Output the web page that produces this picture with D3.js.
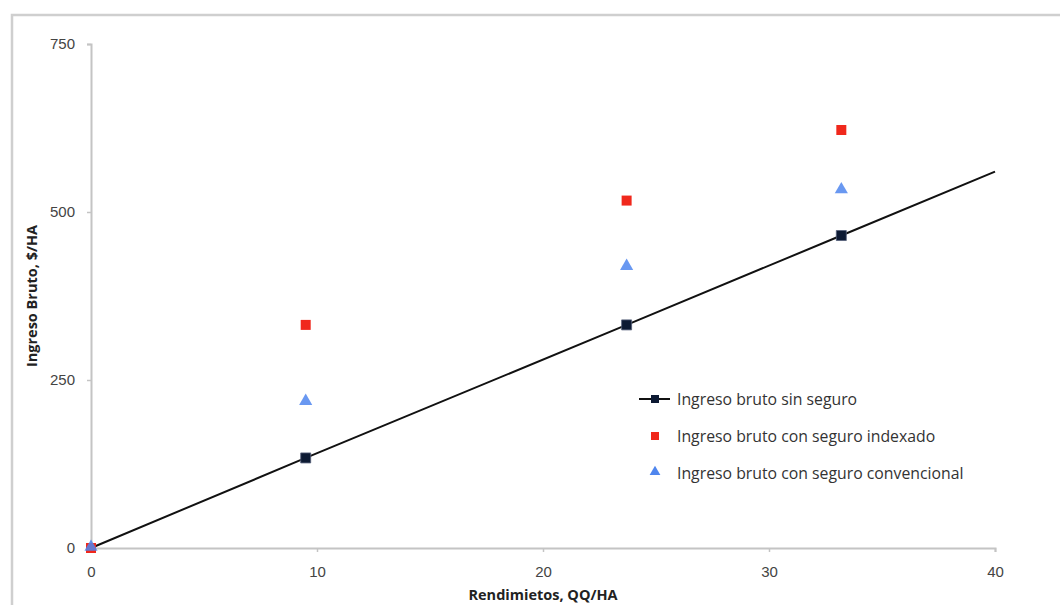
<!DOCTYPE html>
<html>
<head>
<meta charset="utf-8">
<script src="https://cdn.jsdelivr.net/npm/d3@7.9.0/dist/d3.min.js"></script>
<style>
  body { margin: 0; background: #fff; }
  svg { font-family: "Open Sans", "DejaVu Sans", sans-serif; }
</style>
</head>
<body>
<svg id="chart" width="1060" height="605"></svg>
<script>
// rendimientos (QQ/HA)
const rendimientos = [0, 9.5, 23.7, 33.2];
const sinSeguro = [0, 134, 332, 465];
const conIndexado = [0, 332, 517, 622];
const conConvencional = [0, 217, 418, 532];
// the line of "sin seguro" runs on to the end of the axis
const lineaX = [0, 9.5, 23.7, 33.2, 40];
const lineaY = [0, 134, 332, 465, 560];

const xTicks = [0, 10, 20, 30, 40];
const yTicks = [0, 250, 500, 750];

const svg = d3.select("#chart");

// outer chart frame
svg.append("rect")
    .attr("x", 12).attr("y", 15)
    .attr("width", 1080).attr("height", 620)
    .attr("fill", "none")
    .attr("stroke", "#cfcfcf")
    .attr("stroke-width", 2.5);

const x = d3.scaleLinear().domain([0, 40]).range([91, 995]);
const y = d3.scaleLinear().domain([0, 750]).range([548, 44]);

// y axis
const yAxis = svg.append("g")
    .attr("transform", `translate(${x(0)},0)`)
    .call(d3.axisLeft(y).tickValues(yTicks).tickSize(4).tickPadding(12));
yAxis.select(".domain").attr("stroke", "#c4c4c4").attr("stroke-width", 2);
yAxis.selectAll(".tick line").attr("stroke", "#c4c4c4").attr("stroke-width", 1.5);
yAxis.selectAll("text").attr("font-size", 15).attr("fill", "#444");

// x axis
const xAxis = svg.append("g")
    .attr("transform", `translate(0,${y(0)})`)
    .call(d3.axisBottom(x).tickValues(xTicks).tickSize(4).tickPadding(14));
xAxis.select(".domain").attr("stroke", "#c4c4c4").attr("stroke-width", 2);
xAxis.selectAll(".tick line").attr("stroke", "#c4c4c4").attr("stroke-width", 1.5);
xAxis.selectAll("text").attr("font-size", 15).attr("fill", "#444");

// axis titles
svg.append("text")
    .attr("transform", `translate(37,${(y(0) + y(750)) / 2}) rotate(-90)`)
    .attr("text-anchor", "middle")
    .attr("font-size", 14.5)
    .attr("font-weight", "bold")
    .attr("fill", "#222")
    .text("Ingreso Bruto, $/HA");

svg.append("text")
    .attr("x", 543)
    .attr("y", 600)
    .attr("text-anchor", "middle")
    .attr("font-size", 14.5)
    .attr("font-weight", "bold")
    .attr("fill", "#222")
    .text("Rendimietos, QQ/HA");

// sin seguro line
const linea = lineaX.map((d, i) => [d, lineaY[i]]);
svg.append("path")
    .datum(linea)
    .attr("fill", "none")
    .attr("stroke", "#111")
    .attr("stroke-width", 2)
    .attr("d", d3.line().x(d => x(d[0])).y(d => y(d[1])));

const sq = d3.symbol().type(d3.symbolSquare).size(100);
const tri = d3.symbol().type(d3.symbolTriangle).size(75);

// indexado: red squares
svg.selectAll(".indexado")
    .data(rendimientos.map((d, i) => [d, conIndexado[i]]))
    .enter().append("path")
    .attr("class", "indexado")
    .attr("transform", d => `translate(${x(d[0])},${y(d[1])})`)
    .attr("d", sq)
    .attr("fill", "#f0281c");

// convencional: blue triangles
svg.selectAll(".convencional")
    .data(rendimientos.map((d, i) => [d, conConvencional[i]]))
    .enter().append("path")
    .attr("class", "convencional")
    .attr("transform", d => `translate(${x(d[0])},${y(d[1]) - 1})`)
    .attr("d", tri)
    .attr("fill", "#4f86ee")
    .attr("fill-opacity", 0.85);

// sin seguro markers
svg.selectAll(".sin")
    .data(rendimientos.map((d, i) => [d, sinSeguro[i]]).slice(1))
    .enter().append("path")
    .attr("class", "sin")
    .attr("transform", d => `translate(${x(d[0])},${y(d[1])})`)
    .attr("d", sq)
    .attr("fill", "#0d1a33")
    .attr("stroke", "#55607a")
    .attr("stroke-width", 0.8);

// legend
const legend = svg.append("g");
const lx = 655;
const rows = [
  { label: "Ingreso bruto sin seguro", y: 399 },
  { label: "Ingreso bruto con seguro indexado", y: 436 },
  { label: "Ingreso bruto con seguro convencional", y: 473 }
];

legend.append("line")
    .attr("x1", lx - 16).attr("x2", lx + 15)
    .attr("y1", rows[0].y).attr("y2", rows[0].y)
    .attr("stroke", "#111").attr("stroke-width", 2);
legend.append("path")
    .attr("transform", `translate(${lx},${rows[0].y})`)
    .attr("d", d3.symbol().type(d3.symbolSquare).size(64))
    .attr("fill", "#0d1a33");
legend.append("path")
    .attr("transform", `translate(${lx},${rows[1].y})`)
    .attr("d", d3.symbol().type(d3.symbolSquare).size(64))
    .attr("fill", "#f0281c");
legend.append("path")
    .attr("transform", `translate(${lx},${rows[2].y - 1})`)
    .attr("d", d3.symbol().type(d3.symbolTriangle).size(50))
    .attr("fill", "#4f86ee");

legend.selectAll("text")
    .data(rows)
    .enter().append("text")
    .attr("x", 677)
    .attr("y", d => d.y)
    .attr("dy", "0.35em")
    .attr("font-size", 15.8)
    .attr("fill", "#333")
    .text(d => d.label);
</script>
</body>
</html>
